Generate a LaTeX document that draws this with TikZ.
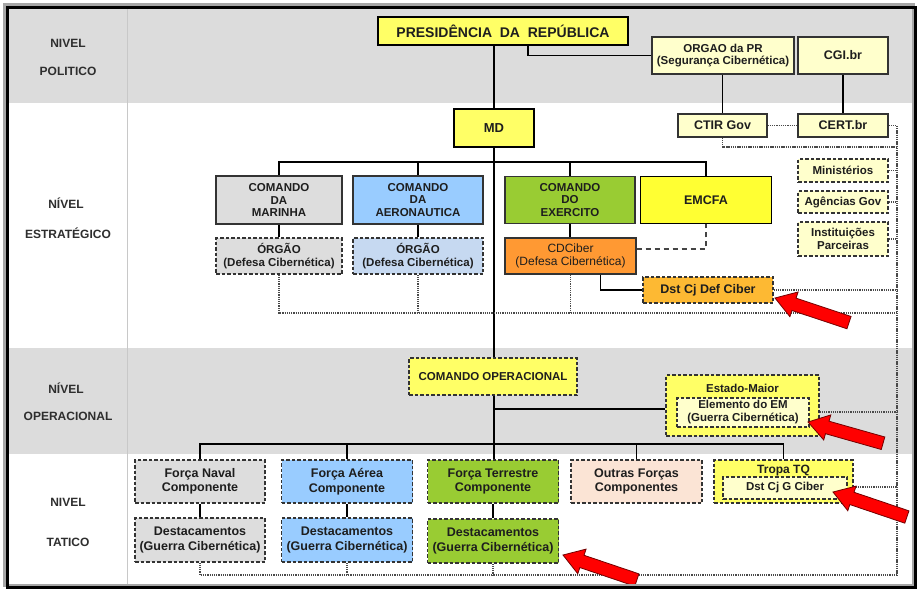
\documentclass[tikz,border=0pt]{standalone}
\usepackage{fontspec}
\setmainfont{Liberation Sans}
\usetikzlibrary{calc}
\definecolor{bandc}{HTML}{DCDCDC}
\definecolor{divc}{HTML}{C8C8C8}
\definecolor{bordc}{HTML}{333333}
\definecolor{txtc}{HTML}{1E1E1E}
\definecolor{lvlc}{HTML}{2E2E2E}
\definecolor{dotc}{HTML}{4A4A4A}
\definecolor{dashc}{HTML}{444444}
\definecolor{yelc}{HTML}{FFFF66}
\definecolor{lyelc}{HTML}{FFFFCC}
\definecolor{emcfac}{HTML}{FFFF33}
\definecolor{grayc}{HTML}{DDDDDD}
\definecolor{bluec}{HTML}{99CCFF}
\definecolor{lbluec}{HTML}{C6D9F1}
\definecolor{greenc}{HTML}{99CC33}
\definecolor{orangec}{HTML}{FF9933}
\definecolor{dstc}{HTML}{FDB933}
\definecolor{peachc}{HTML}{FBE4D5}
\definecolor{arrc}{HTML}{FF0000}
\newcommand{\myredarrow}[3]{\filldraw[redarr, shift={(#1,#2)}, rotate=#3] (0,0) -- (20,-13) -- (20,-6.5) -- (78,-6.5) -- (78,6.5) -- (20,6.5) -- (20,13) -- cycle;}
\begin{document}
\begin{tikzpicture}[x=1pt,y=-1pt,
  box/.style={draw=bordc, line width=1.1pt, inner sep=0pt, align=center, text=txtc,
    font=\bfseries\fontsize{11.5}{12.5}\selectfont},
  dbox/.style={box, dash pattern=on 3.5pt off 2pt},
  tbox/.style={dbox, font=\bfseries\fontsize{12.5}{14.5}\selectfont},
  conn/.style={line width=1.6pt, black},
  dotl/.style={line width=1.5pt, dotc, dash pattern=on 1.3pt off 0.9pt},
  dashl/.style={line width=1.6pt, dashc, dash pattern=on 5pt off 4pt},
  lvl/.style={font=\bfseries\fontsize{12}{14}\selectfont, text=lvlc},
  redarr/.style={fill=arrc, draw=black!55!red, line width=0.8pt}
]
\useasboundingbox (0,0) rectangle (919,589);
% bands
\fill[white] (0,0) rectangle (919,589);
\fill[bandc] (9,9) rectangle (914,103);
\fill[bandc] (9,348) rectangle (914,454);
\draw[divc, line width=1pt] (127,9) -- (127,586);

% level labels
\node[lvl] (l1a) at (68,43) {NIVEL};
\node[lvl] (l1b) at (68,71) {POLITICO};
\node[lvl] (l2a) at (66,203) {NÍVEL};
\node[lvl] (l2b) at (68,233) {ESTRATÉGICO};
\node[lvl] (l3a) at (66,388) {NÍVEL};
\node[lvl] (l3b) at (68,416) {OPERACIONAL};
\node[lvl] (l4a) at (68,502) {NIVEL};
\node[lvl] (l4b) at (68,542) {TATICO};

% political level
\node[box, draw=black, line width=1.5pt, fill=yelc, minimum width=250pt, minimum height=28pt,
  font=\bfseries\fontsize{14}{16}\selectfont] (pres) at (503,31) {PRESIDÊNCIA\ \ DA\ \ REPÚBLICA};
\node[box, fill=lyelc, minimum width=142pt, minimum height=37pt] (orgao) at (723,55.5)
  {ORGAO da PR\\(Segurança Cibernética)};
\node[box, fill=lyelc, minimum width=90pt, minimum height=37pt, font=\bfseries\fontsize{12.5}{14}\selectfont] (cgi) at (843,55.5) {CGI.br};

% strategic level
\node[box, fill=lyelc, minimum width=89pt, minimum height=23pt, font=\bfseries\fontsize{12.5}{14}\selectfont] (ctir) at (722.5,125.5) {CTIR Gov};
\node[box, fill=lyelc, minimum width=90pt, minimum height=23pt, font=\bfseries\fontsize{12.5}{14}\selectfont] (cert) at (843,125.5) {CERT.br};
\node[box, draw=black, line width=1.5pt, fill=yelc, minimum width=80pt, minimum height=38pt,
  font=\bfseries\fontsize{13}{15}\selectfont] (md) at (494,128) {MD};

\node[box, fill=grayc, minimum width=126pt, minimum height=48pt] (marinha) at (279,200) {COMANDO\\DA\\MARINHA};
\node[box, fill=bluec, minimum width=130pt, minimum height=48pt] (aero) at (418,200) {COMANDO\\DA\\AERONAUTICA};
\node[box, fill=greenc, minimum width=130pt, minimum height=47pt] (exerc) at (570,200) {COMANDO\\DO\\EXERCITO};
\node[box, draw=black, fill=emcfac, minimum width=131pt, minimum height=47pt,
  font=\bfseries\fontsize{12.5}{14}\selectfont] (emcfa) at (706,200) {EMCFA};

\node[dbox, fill=grayc, minimum width=126pt, minimum height=36pt] (orgm) at (279,256) {ÓRGÃO\\(Defesa Cibernética)};
\node[dbox, fill=lbluec, minimum width=130pt, minimum height=36pt] (orga) at (418,256) {ÓRGÃO\\(Defesa Cibernética)};
\node[box, fill=orangec, minimum width=131pt, minimum height=36pt,
  font=\fontsize{12}{13}\selectfont] (cdciber) at (570.5,256) {CDCiber\\(Defesa Cibernética)};
\node[dbox, fill=dstc, minimum width=130pt, minimum height=26pt,
  font=\bfseries\fontsize{12.5}{14}\selectfont] (dstdef) at (708,290) {Dst Cj Def Ciber};

\node[dbox, fill=lyelc, minimum width=90pt, minimum height=23pt] (mins) at (843,170.5) {Ministérios};
\node[dbox, fill=lyelc, minimum width=90pt, minimum height=22pt] (agen) at (843,202) {Agências Gov};
\node[dbox, fill=lyelc, minimum width=90pt, minimum height=34pt] (inst) at (843,239) {Instituições\\Parceiras};

% operational level
\node[dbox, fill=yelc, minimum width=168pt, minimum height=37pt] (coop) at (493,376.5) {COMANDO OPERACIONAL};
\node[dbox, fill=yelc, minimum width=153pt, minimum height=61pt] (em) at (742.5,405.5) {};
\node[font=\bfseries\fontsize{11.5}{13}\selectfont, text=txtc, inner sep=0pt] (emlbl) at (742.5,388) {Estado-Maior};
\node[dbox, fill=lyelc, minimum width=132pt, minimum height=29pt,
  font=\bfseries\fontsize{11.5}{13}\selectfont] (eminner) at (743,412.5) {Elemento do EM\\(Guerra Cibernética)};

% tactical level
\node[tbox, fill=grayc, minimum width=130pt, minimum height=43pt] (fnav) at (200,481.5) {Força Naval\\Componente};
\node[tbox, fill=bluec, minimum width=131pt, minimum height=43pt] (faer) at (347,481.5) {Força Aérea\\Componente};
\node[tbox, fill=greenc, minimum width=131pt, minimum height=43pt] (fter) at (493,481.5) {Força Terrestre\\Componente};
\node[tbox, fill=peachc, minimum width=131pt, minimum height=43pt] (outras) at (636.5,481.5) {Outras Forças\\Componentes};
\node[tbox, fill=yelc, minimum width=139pt, minimum height=43pt] (tropa) at (783.5,481.5) {};
\node[font=\bfseries\fontsize{12}{13}\selectfont, text=txtc, inner sep=0pt] (tropalbl) at (783.5,471) {Tropa TQ};
\node[dbox, fill=lyelc, minimum width=124pt, minimum height=22pt] (dstg) at (785,488) {Dst Cj G Ciber};

\node[tbox, fill=grayc, minimum width=130pt, minimum height=44pt] (dnav) at (200,540) {Destacamentos\\(Guerra Cibernética)};
\node[tbox, fill=bluec, minimum width=131pt, minimum height=44pt] (daer) at (347,540) {Destacamentos\\(Guerra Cibernética)};
\node[tbox, fill=greenc, minimum width=131pt, minimum height=44pt] (dter) at (493,541) {Destacamentos\\(Guerra Cibernética)};

% helper coordinates
\coordinate (sb) at (494,162);
\coordinate (emj) at (494,409);
\coordinate (tb) at (494,444);
\coordinate (rt) at (897,125.5);
\coordinate (rb) at (897,575);
\coordinate (r147) at (897,147);
\coordinate (rs) at (897,313);

% solid connectors
\draw[conn] (md.north |- pres.south) -- (md.north);
\draw[conn] ($(pres.south)+(25,0)$) |- (orgao.west);
\draw[conn] (ctir.north |- orgao.south) -- (ctir.north);
\draw[conn] (cgi.south) -- (cert.north);
\draw[conn] (md.south) -- (md.south |- coop.north);
\draw[conn] (marinha.north) |- (sb) -| (emcfa.north);
\draw[conn] (aero.north) -- (aero.north |- sb);
\draw[conn] (exerc.north) -- (exerc.north |- sb);
\draw[conn] (marinha.south) -- (orgm.north);
\draw[conn] (aero.south) -- (orga.north);
\draw[conn] (exerc.south) -- (exerc.south |- cdciber.north);
\draw[conn] ($(cdciber.south)+(30,0)$) |- (dstdef.west);
\draw[conn] (emj) -- (emj -| em.west);
\draw[conn] (coop.south -| emj) -- (emj |- fter.north);
\draw[conn] (fnav.north) |- (tb) -| (tropa.north);
\draw[conn] (faer.north) -- (faer.north |- tb);
\draw[conn] (outras.north) -- (outras.north |- tb);
\draw[conn] (fnav.south) -- (dnav.north);
\draw[conn] (faer.south) -- (daer.north);
\draw[conn] (fter.south) -- (dter.north);

% dashed connector
\draw[dashl] ($(cdciber.east)+(0,-7)$) -| (emcfa.south);

% dotted connectors
\draw[dotl] (ctir.east) -- (cert.west);
\draw[dotl] (cert.east) -| (rb);
\draw[dotl] (ctir.south) |- (r147);
\draw[dotl] (mins.east) -- (mins.east -| rt);
\draw[dotl] (agen.east) -- (agen.east -| rt);
\draw[dotl] (inst.east) -- (inst.east -| rt);
\draw[dotl] (dstdef.east) -- (dstdef.east -| rt);
\draw[dotl] (orgm.south) |- (rs);
\draw[dotl] (orga.south) -- (orga.south |- rs);
\draw[dotl] (cdciber.south) -- (cdciber.south |- rs);
\draw[dotl] ($(em.east)+(0,6.5)$) -- ($(em.east -| rt)+(0,6.5)$);
\draw[dotl] ($(tropa.east)+(0,5.5)$) -- ($(tropa.east -| rt)+(0,5.5)$);
\draw[dotl] (dnav.south) |- (rb);
\draw[dotl] (daer.south) -- (daer.south |- rb);
\draw[dotl] (dter.south) -- (dter.south |- rb);

% red arrows
\myredarrow{775}{298}{-18.4}
\myredarrow{808}{422}{-15.8}
\myredarrow{833}{492}{-18.7}
\myredarrow{563}{555}{-18.7}

% frame
\draw[gray!70, line width=2.5pt] (4.5,4.5) rectangle (913.5,585.5);
\draw[black, line width=3pt] (7.5,7.5) rectangle (915.5,587);
\end{tikzpicture}
\end{document}
